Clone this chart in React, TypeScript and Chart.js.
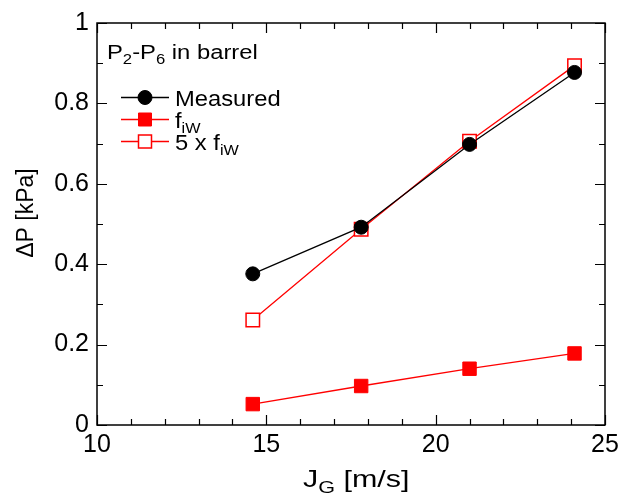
import React, { useEffect, useRef } from "react";
import { Chart, registerables } from "chart.js";

Chart.register(...registerables);

const xValues = [14.6, 17.8, 21.0, 24.1];
const measured = [0.376, 0.492, 0.698, 0.877];
const fiw = [0.052, 0.097, 0.140, 0.178];
const fiw5 = [0.261, 0.487, 0.706, 0.894];

const xMin = 10, xMax = 25, xMajor = 5, xMinor = 1;
const yMin = 0, yMax = 1, yMajor = 0.2, yMinor = 0.1;

const FONT = "'Liberation Sans', Arial, Helvetica, sans-serif";

type Seg = { t: string; sub?: boolean };

function drawSegs(ctx: CanvasRenderingContext2D, segs: Seg[], x: number, y: number, size: number, subSize: number, subDy: number, stretch = 1) {
  ctx.save();
  ctx.translate(x, y);
  ctx.scale(stretch, 1);
  let cx = 0;
  for (const s of segs) {
    ctx.font = `${s.sub ? subSize : size}px ${FONT}`;
    ctx.fillText(s.t, cx, s.sub ? subDy : 0);
    cx += ctx.measureText(s.t).width;
  }
  ctx.restore();
}

const framePlugin = {
  id: "frame",
  beforeDatasetsDraw(chart: any) {
    const { ctx, chartArea: a, scales } = chart;
    const xs = scales.x, ys = scales.y;
    ctx.save();
    ctx.strokeStyle = "#000";
    ctx.lineWidth = 1.5;
    ctx.strokeRect(a.left, a.top, a.right - a.left, a.bottom - a.top);
    ctx.lineWidth = 1.2;
    ctx.beginPath();
    for (let v = xMin; v <= xMax + 1e-9; v += xMinor) {
      const major = Math.abs(v / xMajor - Math.round(v / xMajor)) < 1e-6;
      const len = major ? 10 : 6;
      const px = Math.round(xs.getPixelForValue(v)) + 0.5;
      ctx.moveTo(px, a.bottom); ctx.lineTo(px, a.bottom - len);
      ctx.moveTo(px, a.top); ctx.lineTo(px, a.top + len);
    }
    for (let i = 0; i <= Math.round((yMax - yMin) / yMinor); i++) {
      const v = yMin + i * yMinor;
      const major = i % Math.round(yMajor / yMinor) === 0;
      const len = major ? 10 : 6;
      const py = Math.round(ys.getPixelForValue(v)) + 0.5;
      ctx.moveTo(a.left, py); ctx.lineTo(a.left + len, py);
      ctx.moveTo(a.right, py); ctx.lineTo(a.right - len, py);
    }
    ctx.stroke();
    ctx.restore();
  },
  afterDraw(chart: any) {
    const { ctx } = chart;
    ctx.save();
    ctx.fillStyle = "#000";
    ctx.textBaseline = "alphabetic";
    ctx.textAlign = "left";
    // x title
    const xt: Seg[] = [{ t: "J" }, { t: "G", sub: true }, { t: " [m/s]" }];
    drawSegs(ctx, xt, 303, 487, 24, 17, 6, 1.27);
    // y title
    ctx.save();
    ctx.translate(33, 213);
    ctx.rotate(-Math.PI / 2);
    ctx.font = `23px ${FONT}`;
    ctx.textAlign = "center";
    ctx.fillText("\u0394P [kPa]", 0, 0);
    ctx.restore();
    // header
    drawSegs(ctx, [{ t: "P" }, { t: "2", sub: true }, { t: "-P" }, { t: "6", sub: true }, { t: " in barrel" }], 107, 59, 20, 14, 5, 1.19);
    // legend
    const rows = [
      { y: 97.5, color: "#000", shape: "circle", fill: "#000", label: [{ t: "Measured" }] as Seg[] },
      { y: 119.5, color: "#ff0000", shape: "square", fill: "#ff0000", label: [{ t: "f" }, { t: "iW", sub: true }] as Seg[] },
      { y: 141.5, color: "#ff0000", shape: "square", fill: "#ffffff", label: [{ t: "5 x f" }, { t: "iW", sub: true }] as Seg[] },
    ];
    for (const r of rows) {
      ctx.strokeStyle = r.color;
      ctx.lineWidth = 1.3;
      ctx.beginPath();
      ctx.moveTo(121, r.y); ctx.lineTo(169, r.y);
      ctx.stroke();
      ctx.fillStyle = r.fill;
      ctx.lineWidth = r.fill === "#ffffff" ? 1.5 : 1;
      ctx.beginPath();
      if (r.shape === "circle") {
        ctx.arc(145, r.y, 7, 0, Math.PI * 2);
      } else {
        ctx.rect(145 - 6.5, r.y - 6.5, 13, 13);
      }
      ctx.fill();
      ctx.stroke();
      ctx.fillStyle = "#000";
      drawSegs(ctx, r.label, 175, r.y + 8, 22, 15, 5, 1.08);
    }
    ctx.restore();
  },
};

export default function App() {
  const ref = useRef<HTMLCanvasElement | null>(null);
  useEffect(() => {
    if (!ref.current) return;
    const mk = (ys: number[]) => ys.map((y, i) => ({ x: xValues[i], y }));
    const chart = new Chart(ref.current, {
      type: "line",
      data: {
        datasets: [
          {
            label: "Measured",
            data: mk(measured),
            borderColor: "#000",
            backgroundColor: "#000",
            borderWidth: 1.3,
            pointStyle: "circle",
            pointRadius: 7,
            pointBorderWidth: 1,
            pointBackgroundColor: "#000",
            pointBorderColor: "#000",
          },
          {
            label: "5 x fiW",
            data: mk(fiw5),
            borderColor: "#ff0000",
            backgroundColor: "#ffffff",
            borderWidth: 1.3,
            pointStyle: "rect",
            pointRadius: 9.5,
            pointBorderWidth: 1.5,
            pointBackgroundColor: "#ffffff",
            pointBorderColor: "#ff0000",
          },
          {
            label: "fiW",
            data: mk(fiw),
            borderColor: "#ff0000",
            backgroundColor: "#ff0000",
            borderWidth: 1.3,
            pointStyle: "rect",
            pointRadius: 9.5,
            pointBorderWidth: 1,
            pointBackgroundColor: "#ff0000",
            pointBorderColor: "#ff0000",
          },
        ],
      },
      options: {
        animation: false,
        responsive: true,
        maintainAspectRatio: false,
        layout: { padding: { left: 0, top: 20, right: 33, bottom: 0 } },
        plugins: { legend: { display: false }, tooltip: { enabled: false } },
        elements: { line: { tension: 0 } },
        scales: {
          x: {
            type: "linear",
            min: xMin,
            max: xMax,
            afterFit: (s: any) => { s.height = 68; },
            ticks: { stepSize: xMajor, color: "#000", padding: 5, font: { family: FONT, size: 25 } },
            grid: { display: true, drawOnChartArea: false, drawTicks: false },
            border: { display: false },
          },
          y: {
            type: "linear",
            min: yMin,
            max: yMax,
            afterFit: (s: any) => { s.width = 97; },
            ticks: {
              stepSize: yMajor,
              color: "#000",
              padding: 8,
              font: { family: FONT, size: 25 },
              callback: (v: any) => String(Math.round(Number(v) * 10) / 10),
            },
            grid: { display: true, drawOnChartArea: false, drawTicks: false },
            border: { display: false },
          },
        },
      },
      plugins: [framePlugin],
    });
    return () => chart.destroy();
  }, []);
  return (
    <div style={{ position: "absolute", left: 0, top: 0, width: 638, height: 493, background: "#fff" }}>
      <canvas ref={ref} />
    </div>
  );
}
